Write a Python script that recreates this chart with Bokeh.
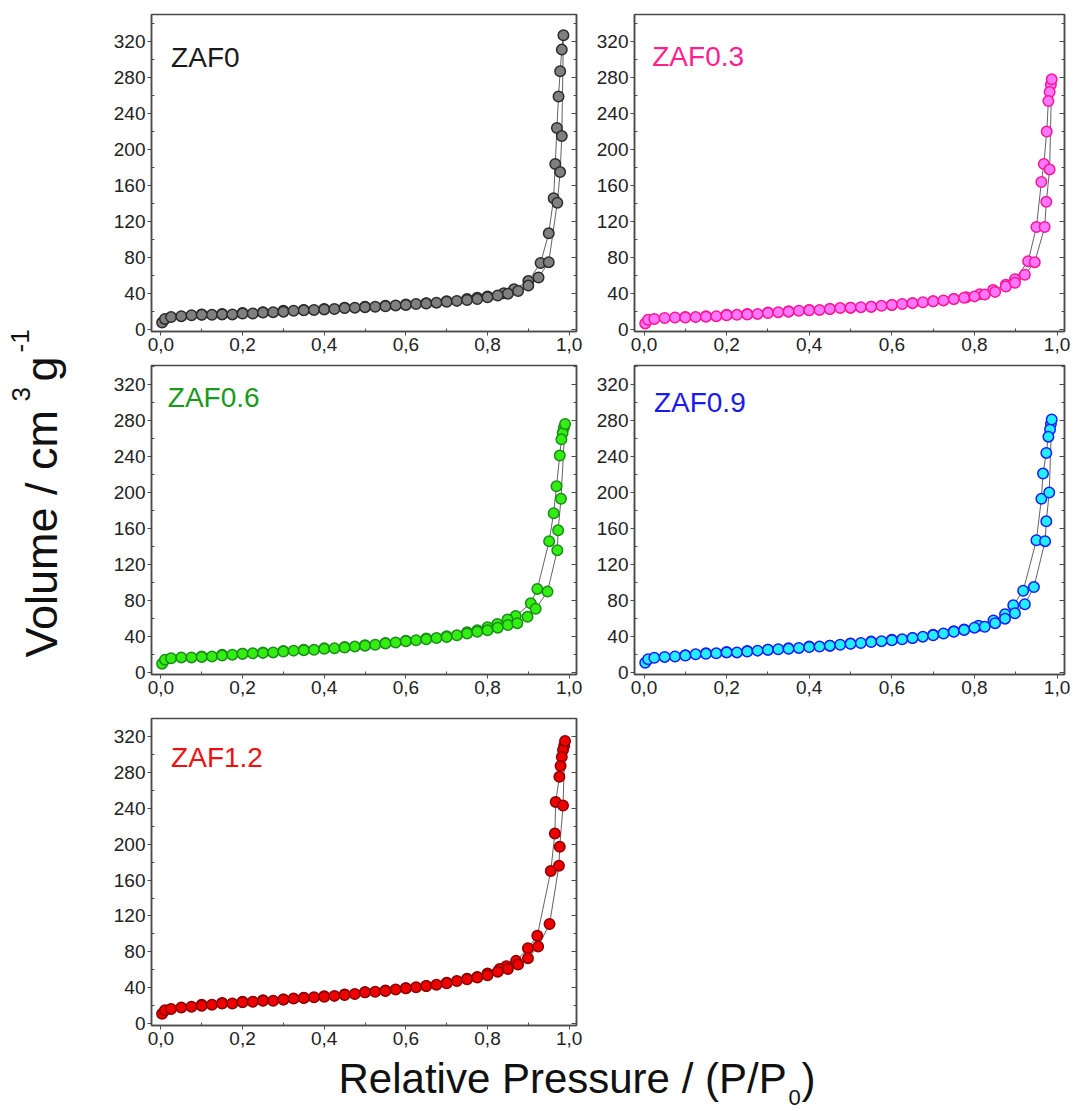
from bokeh.plotting import figure
from bokeh.models import (Range1d, FixedTicker, CustomJSTickFormatter, LinearAxis, Label,
                          ColumnDataSource, CustomLabelingPolicy)
from bokeh.layouts import row, column
from bokeh.embed import file_html
from bokeh.resources import INLINE

# ---------------- data ----------------
X_TICKS = [0.0, 0.2, 0.4, 0.6, 0.8, 1.0]
X_MINOR = [0.1, 0.3, 0.5, 0.7, 0.9]
Y_TICKS = [0, 40, 80, 120, 160, 200, 240, 280, 320]
Y_MINOR = [20, 60, 100, 140, 180, 220, 260, 300, 340]

LOW_P = [0.003, 0.01, 0.025, 0.05, 0.075, 0.1, 0.125, 0.15, 0.175, 0.2, 0.225, 0.25,
         0.275, 0.3, 0.325, 0.35, 0.375, 0.4, 0.425, 0.45, 0.475, 0.5, 0.525, 0.55,
         0.575, 0.6, 0.625, 0.65, 0.675, 0.7, 0.725, 0.75, 0.775, 0.8, 0.825, 0.85]

# ZAF0
ZAF0_ADS_P = LOW_P + [0.875, 0.9, 0.925, 0.95, 0.971, 0.978, 0.982, 0.986]
ZAF0_ADS_V = [8, 12, 14, 15, 16, 16.5, 16.5, 17, 17, 18, 18, 19, 19.5, 20, 21, 21.5, 22, 22.5,
              23, 24, 24.5, 25, 25.5, 26, 27, 27.5, 28.5, 29, 30, 31, 32, 33, 34, 36, 38, 40,
              43, 49, 58, 75, 141, 175, 215, 327]
ZAF0_DES_P = [0.982, 0.978, 0.974, 0.97, 0.966, 0.962, 0.95, 0.93, 0.9, 0.865, 0.84, 0.8, 0.775,
              0.75, 0.7, 0.65, 0.6, 0.55, 0.5, 0.45, 0.4, 0.35, 0.3, 0.25, 0.2, 0.15, 0.1]
ZAF0_DES_V = [311, 287, 259, 224, 184, 146, 107, 74, 54, 45, 40.5, 37, 35.5, 34, 31.5, 29.5,
              28, 26.5, 25.5, 24.5, 23, 22, 21, 19.5, 18.5, 17.5, 17]

# ZAF0.3
ZAF03_ADS_P = LOW_P + [0.876, 0.898, 0.922, 0.946, 0.97, 0.974, 0.982, 0.987]
ZAF03_ADS_V = [7, 11, 12, 13, 13.5, 13.5, 14, 14.5, 15, 16, 16.5, 17, 17.5, 18.5, 19.5, 20, 21,
               21.5, 22, 23, 24, 24.5, 25, 25.5, 26.5, 27.5, 28.5, 29.5, 30.5, 31.5, 32.5, 34,
               35.5, 37, 39, 42, 48, 52, 61, 75, 114, 142, 178, 278]
ZAF03_DES_P = [0.985, 0.982, 0.979, 0.975, 0.968, 0.962, 0.95, 0.93, 0.898, 0.876, 0.845, 0.813,
               0.78, 0.75, 0.7, 0.65, 0.6, 0.55, 0.5, 0.45, 0.4, 0.35, 0.3, 0.25, 0.2, 0.15, 0.1]
ZAF03_DES_V = [272, 264, 254, 220, 184, 164, 114, 76, 56, 50, 44, 39.5, 36, 34, 31.5, 29.5,
               27.5, 25.5, 24.5, 23, 22, 20.5, 19, 17.5, 16.5, 15, 14]

# ZAF0.6
ZAF06_ADS_P = LOW_P + [0.873, 0.898, 0.918, 0.947, 0.971, 0.973, 0.98, 0.99]
ZAF06_ADS_V = [10, 14.5, 16, 17, 17, 17.5, 18, 19, 20, 21, 21.5, 22, 22.5, 23.5, 24.5, 25, 25.5,
               26.5, 27, 28, 29, 30, 31, 32.5, 33.5, 35, 36, 37, 38.5, 39.5, 41.5, 43.5, 45.5,
               47, 50, 53, 55, 62, 71, 90, 136, 158, 193, 276]
ZAF06_DES_P = [0.987, 0.984, 0.981, 0.977, 0.969, 0.962, 0.951, 0.922, 0.906, 0.869, 0.849,
               0.824, 0.8, 0.775, 0.75, 0.7, 0.65, 0.6, 0.55, 0.5, 0.45, 0.4, 0.35, 0.3, 0.25,
               0.2, 0.15, 0.1]
ZAF06_DES_V = [272, 266, 259, 241, 207, 177, 146, 93, 77, 63, 59, 54, 50.5, 47, 45, 40.5, 38,
               35.5, 33, 30.5, 28.5, 27, 25.5, 24, 22.5, 21, 20, 18]

# ZAF0.9
ZAF09_ADS_P = LOW_P + [0.874, 0.898, 0.922, 0.944, 0.971, 0.974, 0.981, 0.987]
ZAF09_ADS_V = [11, 15, 16.5, 17.5, 18, 19, 20.5, 21, 21.5, 22.5, 22.5, 23.5, 24.5, 25.5, 26,
               26.5, 27.5, 28.5, 29, 30, 31, 32, 33, 34, 35, 36, 37, 38.5, 40, 41.5, 43.5, 45.5,
               47.5, 50, 51, 55, 60, 66, 76, 95, 146, 168, 200, 281]
ZAF09_DES_P = [0.985, 0.983, 0.979, 0.974, 0.966, 0.962, 0.95, 0.918, 0.894, 0.874, 0.846, 0.81,
               0.775, 0.75, 0.7, 0.65, 0.6, 0.55, 0.5, 0.45, 0.4, 0.35, 0.3, 0.25, 0.2, 0.15, 0.1]
ZAF09_DES_V = [276, 270, 262, 244, 221, 193, 147, 91, 75, 65, 58, 52, 48, 46, 42, 38.5, 36.5,
               34.5, 32.5, 30, 29, 27, 25.5, 24, 23, 21.5, 19.5]

# ZAF1.2
ZAF12_ADS_P = LOW_P + [0.875, 0.899, 0.924, 0.952, 0.975, 0.977, 0.985, 0.99]
ZAF12_ADS_V = [11, 15, 16.5, 18, 19, 20, 21, 22.5, 22.5, 24, 24.5, 25.5, 25.5, 27, 28, 28.5,
               29.5, 30, 31, 32, 33, 35, 35.5, 36.5, 38, 39.5, 40.5, 42, 43.5, 45, 47.5, 49.5,
               51.5, 54, 58, 61, 66, 73, 86, 111, 176, 197, 243, 315]
ZAF12_DES_P = [0.988, 0.985, 0.982, 0.979, 0.976, 0.967, 0.965, 0.955, 0.922, 0.899, 0.87, 0.846,
               0.83, 0.8, 0.775, 0.75, 0.7, 0.65, 0.6, 0.55, 0.5, 0.45, 0.4, 0.35, 0.3, 0.25,
               0.2, 0.15, 0.1]
ZAF12_DES_V = [310, 305, 297, 287, 275, 247, 212, 170, 98, 84, 70, 64, 61, 56, 52, 50, 45.5, 42,
               39.5, 37, 35, 32.5, 30.5, 29, 27, 26, 24.5, 23, 21]

NAMES = ["ZAF0", "ZAF0.3", "ZAF0.6", "ZAF0.9", "ZAF1.2"]

# ---------------- styling ----------------
FONT = "Liberation Sans"
FRAME_COL = "#4a4a4a"
TICK_TXT = "#222222"

def make_panel(name, ads_p, ads_v, des_p, des_v, fill, edge, name_color, name_xy,
               fw, fh, y_end, borders):
    left, right, top, bottom = borders
    p = figure(frame_width=fw, frame_height=fh,
               x_range=Range1d(-0.023, 1.018), y_range=Range1d(-2, y_end),
               output_backend="svg", toolbar_location=None,
               min_border_left=left, min_border_right=right,
               min_border_top=top, min_border_bottom=bottom,
               background_fill_color="white", border_fill_color="white")
    p.grid.visible = False
    p.outline_line_color = FRAME_COL
    p.outline_line_width = 1.5

    xa = p.xaxis[0]
    xa.ticker = FixedTicker(ticks=X_TICKS, minor_ticks=X_MINOR)
    xa.formatter = CustomJSTickFormatter(code="return tick.toFixed(1).replace('.', ',');")
    ya = p.yaxis[0]
    ya.ticker = FixedTicker(ticks=Y_TICKS, minor_ticks=Y_MINOR)
    for ax in (xa, ya):
        ax.axis_line_color = FRAME_COL
        ax.axis_line_width = 1.5
        ax.major_tick_line_color = FRAME_COL
        ax.minor_tick_line_color = FRAME_COL
        ax.major_tick_in = 0
        ax.major_tick_out = 4
        ax.minor_tick_in = 3
        ax.minor_tick_out = 0
        ax.major_label_text_font = FONT
        ax.major_label_text_font_size = "19px"
        ax.major_label_text_color = TICK_TXT
        ax.major_label_standoff = 2
    # right-hand axis: inward ticks only, no labels drawn
    ra = LinearAxis(ticker=FixedTicker(ticks=Y_TICKS, minor_ticks=Y_MINOR),
                    major_tick_in=5, major_tick_out=0, minor_tick_in=3, minor_tick_out=0,
                    major_label_text_font_size="1px", major_label_standoff=0,
                    major_label_policy=CustomLabelingPolicy(code="return new Set()"),
                    axis_line_color=FRAME_COL, axis_line_width=1.5,
                    major_tick_line_color=FRAME_COL, minor_tick_line_color=FRAME_COL)
    p.add_layout(ra, "right")

    # connecting lines: adsorption then desorption
    line_src = ColumnDataSource(dict(x=list(ads_p) + list(des_p), y=list(ads_v) + list(des_v)))
    p.line("x", "y", source=line_src, line_color="#505050", line_width=0.9)
    des_src = ColumnDataSource(dict(x=des_p, y=des_v))
    ads_src = ColumnDataSource(dict(x=ads_p, y=ads_v))
    for src in (des_src, ads_src):
        p.scatter("x", "y", source=src, marker="circle", size=10.5,
                  fill_color=fill, line_color=edge, line_width=1.5)

    p.add_layout(Label(x=name_xy[0], y=name_xy[1], text=name, text_color=name_color,
                       text_font=FONT, text_font_size="28px", text_baseline="middle",
                       text_align="left"))
    return p

p1 = make_panel(NAMES[0], ZAF0_ADS_P, ZAF0_ADS_V, ZAF0_DES_P, ZAF0_DES_V,
                "#808080", "#2b2b2b", "#1a1a1a", (0.025, 302), 425, 317, 350, (51, 13, 14, 30))
p2 = make_panel(NAMES[1], ZAF03_ADS_P, ZAF03_ADS_V, ZAF03_DES_P, ZAF03_DES_V,
                "#ff77ff", "#ff1493", "#ff1f8f", (0.02, 303), 430, 317, 350, (45, 10, 14, 30))
p3 = make_panel(NAMES[2], ZAF06_ADS_P, ZAF06_ADS_V, ZAF06_DES_P, ZAF06_DES_V,
                "#33ee11", "#1a8c1a", "#1a9a1a", (0.017, 305), 425, 309, 341, (51, 13, 4, 30))
p4 = make_panel(NAMES[3], ZAF09_ADS_P, ZAF09_ADS_V, ZAF09_DES_P, ZAF09_DES_V,
                "#22eeff", "#1a1aff", "#1a1aee", (0.024, 300), 430, 309, 341, (45, 10, 4, 30))
p5 = make_panel(NAMES[4], ZAF12_ADS_P, ZAF12_ADS_V, ZAF12_DES_P, ZAF12_DES_V,
                "#ee0000", "#8b0000", "#ee1111", (0.025, 297), 425, 307, 340, (51, 13, 14, 28))

GRID_H = 1052

# y-axis title (text centred on its middle line; positions in page px)
yfig = figure(width=100, height=GRID_H, x_axis_type=None, y_axis_type=None,
              x_range=Range1d(0, 1), y_range=Range1d(0, 1),
              output_backend="svg", toolbar_location=None, min_border=0,
              outline_line_color=None)
yfig.grid.visible = False
for txt, bx, py, fs in [("Volume / cm", 41, 657, "45px"), ("3", 20, 401, "26px"),
                         ("g", 41, 381, "45px"), ("-1", 19, 352, "26px")]:
    yfig.add_layout(Label(x=bx, y=GRID_H - py, x_units="screen", y_units="screen", text=txt,
                          angle=90, angle_units="deg", text_font=FONT, text_font_size=fs,
                          text_color="#111111", text_align="left", text_baseline="middle"))

# x-axis title
XH = 1111 - GRID_H
xfig = figure(width=1074, height=XH, x_axis_type=None, y_axis_type=None,
              x_range=Range1d(0, 1), y_range=Range1d(0, 1),
              output_backend="svg", toolbar_location=None, min_border=0,
              outline_line_color=None)
xfig.grid.visible = False
for txt, bx, py_mid, fs in [("Relative Pressure / (P/P", 338, 1077, "42px"),
                             ("0", 788, 1096, "22px"), (")", 801, 1077, "42px")]:
    xfig.add_layout(Label(x=bx, y=1111 - py_mid, x_units="screen", y_units="screen", text=txt,
                          text_font=FONT, text_font_size=fs, text_color="#111111",
                          text_align="left", text_baseline="middle"))

grid = column(row(p1, p2), row(p3, p4), row(p5))
layout = column(row(yfig, grid), xfig)

open("out.html", "w").write(file_html(layout, INLINE))
